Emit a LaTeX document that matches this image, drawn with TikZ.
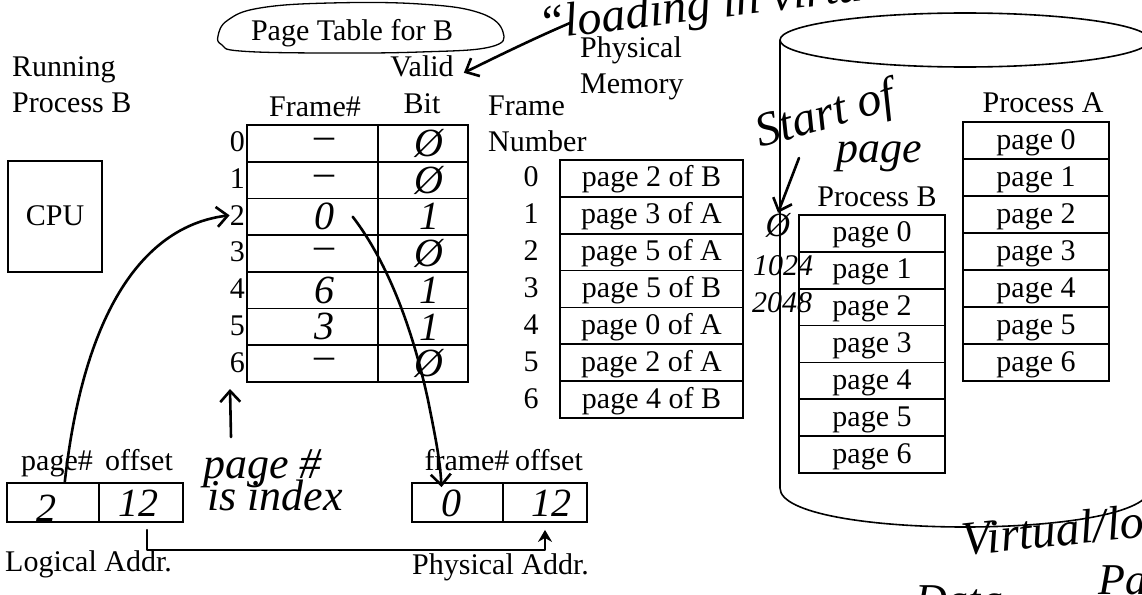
\documentclass[tikz,border=0pt]{standalone}
\usepackage{fontspec}
\setmainfont{Liberation Serif}
\newfontfamily\handfam{Liberation Serif}
\usetikzlibrary{arrows.meta}
\newcommand{\bodysize}{\fontsize{30}{34}\selectfont}
\newcommand{\handtext}[1]{\handfam\itshape\fontsize{#1}{#1}\selectfont}
\begin{document}
\begin{tikzpicture}[x=1pt, y=-1pt,
  txt/.style={font=\bodysize, inner sep=0pt},
  hand/.style={font=\handtext{40}, inner sep=0pt},
  box/.style={draw, line width=1.8pt, inner sep=0pt, font=\bodysize, text height=21pt, text depth=4pt},
  ink/.style={line width=2.6pt, line cap=round, line join=round},
  inkarrow/.style={ink, -{Straight Barb[length=11pt, width=20pt, line width=2.6pt]}},
]
\fill[white] (0,0) rectangle (1142,594);
\useasboundingbox (0,0) rectangle (1142,594);

% disk cylinder holding the processes
\draw[line width=1.6pt] (780,40) -- (780,488) .. controls (780,540) and (1150,540) .. (1150,488) -- (1150,40);
\draw[line width=1.6pt] (965,40) ellipse [x radius=185, y radius=27];

% title of the page table with its hand-drawn ring
\node[txt, anchor=base] (pttitle) at (352,41) {Page Table for B};
\draw[line width=1.3pt] plot[smooth cycle, tension=0.7] coordinates {(218,36) (228,20) (260,8) (330,3) (420,4) (480,13) (503,32) (490,47) (420,52) (320,53) (240,51) (222,45)};

% running process and CPU
\node[txt, anchor=base west] (run1) at (12,77) {Running};
\node[txt, anchor=base west] (run2) at (12,112) {Process B};
\node[box, minimum width=94pt, minimum height=111pt] (cpu) at (55,216.5) {CPU};

% page table
\node[txt, anchor=base] (hframe) at (315,116) {Frame\#};
\node[txt, anchor=base] (hvalid) at (422,77) {Valid};
\node[txt, anchor=base] (hbit) at (422,113) {Bit};
\foreach \i/\f/\v in {0/–/Ø,1/–/Ø,2/0/1,3/–/Ø,4/6/1,5/3/1,6/–/Ø}{
  \pgfmathsetmacro{\cy}{125+36.7*(\i+0.5)}
  \node[box, minimum width=131pt, minimum height=36.7pt] (pf\i) at (312.5,\cy) {};
  \node[box, minimum width=90pt, minimum height=36.7pt] (pv\i) at (423,\cy) {};
  \node[hand] (hf\i) at ([xshift=12pt]pf\i.center) {\f};
  \node[hand] (hv\i) at ([xshift=6pt]pv\i.center) {\v};
  \node[txt, anchor=base east] (pi\i) at (245,\cy+8.5) {\i};
}

% physical memory frames
\node[txt, anchor=base west] (pm1) at (580,58) {Physical};
\node[txt, anchor=base west] (pm2) at (580,93) {Memory};
\node[txt, anchor=base west] (fn1) at (488,115) {Frame};
\node[txt, anchor=base west] (fn2) at (488,151) {Number};
\foreach \i/\lbl in {0/page 2 of B,1/page 3 of A,2/page 5 of A,3/page 5 of B,4/page 0 of A,5/page 2 of A,6/page 4 of B}{
  \pgfmathsetmacro{\cy}{160+36.86*(\i+0.5)}
  \node[box, minimum width=183pt, minimum height=36.86pt] (mf\i) at (651.5,\cy) {\lbl};
  \node[txt, anchor=base] (mn\i) at (531,\cy+8.5) {\i};
}

% pages of the two processes on disk
\node[txt, anchor=base] (pah) at (1043,112) {Process A};
\foreach \i in {0,...,6}{
  \node[box, minimum width=146pt, minimum height=37pt] (pa\i) at (1036,{122+37*(\i+0.5)}) {page \i};
}
\node[txt, anchor=base] (pbh) at (877,206) {Process B};
\foreach \i in {0,...,6}{
  \node[box, minimum width=146pt, minimum height=36.86pt] (pb\i) at (872,{215+36.86*(\i+0.5)}) {page \i};
}

% logical and physical addresses
\node[txt, anchor=base] (lpgh) at (57,470) {page\#};
\node[txt, anchor=base] (loffh) at (139,470) {offset};
\node[box, minimum width=92pt, minimum height=39pt] (lpg) at (53,502.5) {};
\node[box, minimum width=84pt, minimum height=39pt] (loff) at (141,502.5) {};
\node[txt, anchor=base west] (laddr) at (5,571) {Logical Addr.};
\node[txt, anchor=base] (pfrh) at (467,470) {frame\#};
\node[txt, anchor=base] (poffh) at (549,470) {offset};
\node[box, minimum width=91pt, minimum height=39pt] (pfr) at (457.5,502.5) {};
\node[box, minimum width=84pt, minimum height=39pt] (poff) at (545,502.5) {};
\node[txt, anchor=base west] (paddr) at (412,574) {Physical Addr.};
\node[hand] (lv1) at (46,508) {2};
\node[hand] (lv2) at (138,503) {12};
\node[hand] (pv1) at (451,503) {0};
\node[hand] (pv2) at (551,503) {12};

% handwritten notes
\node[hand, font=\handtext{48}, anchor=base west, rotate=7] (loadnote) at (540,40) {“loading in virtual memory”};
\node[hand, font=\handtext{44}, anchor=base west] (idx1) at (203,478) {page \#};
\node[hand, font=\handtext{44}, anchor=base west] (idx2) at (207,510) {is index};
\node[hand, font=\handtext{48}, anchor=base west, rotate=16] (st1) at (760,148) {Start of};
\node[hand, font=\handtext{44}, anchor=base west] (st2) at (836,162) {page};
\node[hand, font=\handtext{34}] (z0) at (778,225) {Ø};
\node[hand, font=\handtext{30}] (z1) at (783,266) {1024};
\node[hand, font=\handtext{30}] (z2) at (782,303) {2048};
\node[hand, font=\handtext{48}, anchor=base west, rotate=6] (vnote) at (963,556) {Virtual/logical};
\node[hand, font=\handtext{44}, anchor=base west] (pnote) at (1098,594) {Page};
\node[hand, font=\handtext{44}, anchor=base west] (dnote) at (915,614) {Data};

% hand-drawn connectors
\coordinate (ldt) at (570,23);
\coordinate (stt) at (799,158);
\coordinate (idxtip) at (230,389);
\draw[inkarrow] (ldt) .. controls (535,38) and (500,55) .. ([xshift=10pt,yshift=-6pt]hvalid.east);
\draw[inkarrow] (stt) -- (z0.north);
\draw[inkarrow] ([xshift=28pt,yshift=12pt]idx1.north west) -- (idxtip);
\draw[inkarrow] (lpg.60) .. controls (85,300) and (150,225) .. (pi2.west);
\draw[inkarrow] ([xshift=18pt]hf2.east) .. controls (392,268) and (415,340) .. (428,400) .. controls (436,440) and (440,460) .. ([xshift=-16pt,yshift=-5pt]pfr.north);
\draw[ink, line width=2pt, -{Stealth[length=12pt, width=14pt]}] ([xshift=6pt,yshift=-7pt]loff.south) -- ++(0,20) -| ([yshift=-7pt]poff.south);
\end{tikzpicture}
\end{document}
